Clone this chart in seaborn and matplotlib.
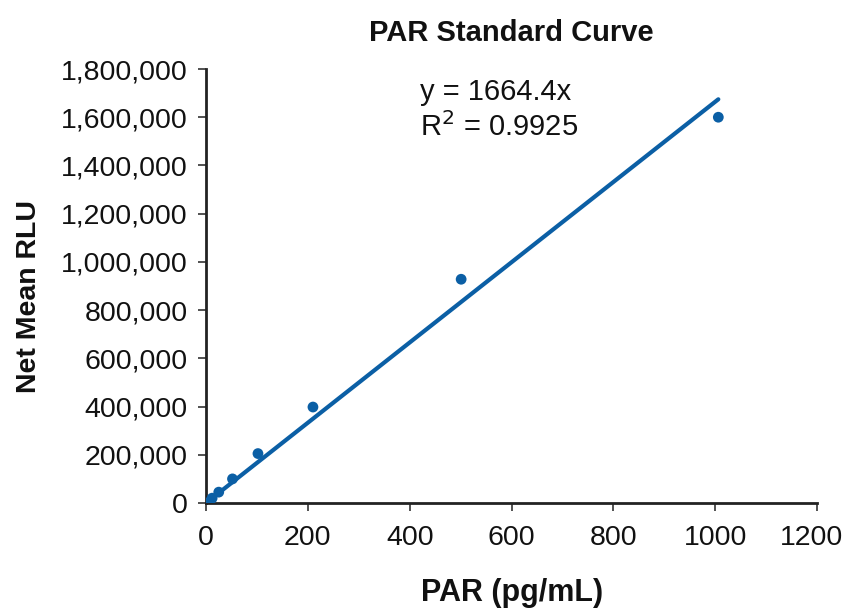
import matplotlib
matplotlib.use("Agg")
import matplotlib.pyplot as plt
import matplotlib.ticker as mticker
import matplotlib.transforms as mtransforms
import numpy as np
import pandas as pd
import seaborn as sns

conc = [0, 12, 25, 52, 102, 210, 501, 1006]
rlu = [0, 20000, 45000, 100000, 205000, 398000, 928000, 1600000]
slope = 1664.4
r2 = 0.9925
x_ticks = [0, 200, 400, 600, 800, 1000, 1200]
y_ticks = [0, 200000, 400000, 600000, 800000, 1000000, 1200000, 1400000, 1600000, 1800000]

sns.set_theme(style="ticks")
plt.rcParams['font.family'] = ['Liberation Sans', 'DejaVu Sans']

blue = "#0b5fa5"
df = pd.DataFrame({"PAR": conc, "RLU": rlu})
line_x = np.array([0, max(conc)])
fit = pd.DataFrame({"PAR": line_x, "RLU": slope * line_x})

fig = plt.figure(figsize=(8.45, 6.08), dpi=100)
ax = fig.add_axes([0.2438, 0.1727, 0.7232, 0.7138])
sns.lineplot(data=fit, x="PAR", y="RLU", ax=ax, color=blue, lw=3, zorder=2)
sns.scatterplot(data=df, x="PAR", y="RLU", ax=ax, color=blue, s=60, edgecolor="none", zorder=3, clip_on=True)

ax.set_xlim(0, 1200)
ax.set_ylim(0, 1800000)
ax.set_xticks(x_ticks)
ax.set_yticks(y_ticks)
ax.yaxis.set_major_formatter(mticker.FuncFormatter(lambda v, p: f"{int(v):,}"))
ax.tick_params(axis="both", labelsize=20.5, length=6, width=1.2, color="#333333", labelcolor="#111111")
ax.tick_params(axis="x", pad=10)
ax.tick_params(axis="y", pad=7)
for s in ["top", "right"]:
    ax.spines[s].set_visible(False)
for s in ["left", "bottom"]:
    ax.spines[s].set_linewidth(2)
    ax.spines[s].set_color("#222222")

ax.set_xlabel("PAR (pg/mL)", fontsize=22, fontweight="bold", labelpad=19, color="#111111")
ax.set_ylabel("Net Mean RLU", fontsize=20.5, fontweight="bold", color="#111111")
ax.yaxis.set_label_coords(-0.268, 0.475)
ax.set_title("PAR Standard Curve", fontsize=21, fontweight="bold", pad=20, color="#111111")

ax.text(420, 1705000, f"y = {slope}x", fontsize=21, ha="left", va="center", color="#111111")
ax.text(420, 1560000, f"R$^2$ = {r2}", fontsize=21, ha="left", va="center", color="#111111")

fig.canvas.draw()
last = ax.get_xticklabels()[-1]
last.set_transform(last.get_transform() + mtransforms.ScaledTranslation(-6 / 100, 0, fig.dpi_scale_trans))

fig.savefig("out.png", dpi=100)
